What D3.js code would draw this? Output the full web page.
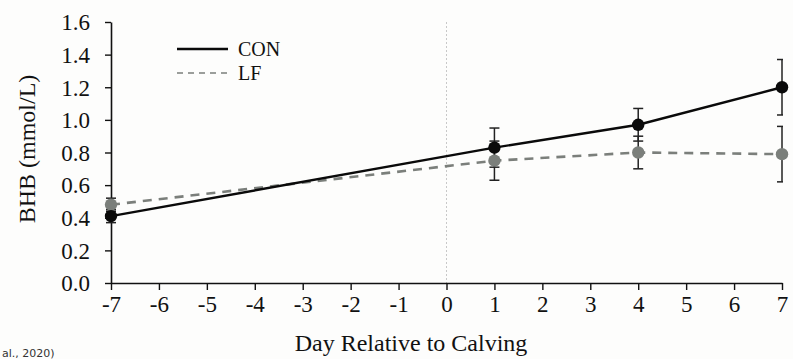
<!DOCTYPE html>
<html>
<head>
<meta charset="utf-8">
<script src="https://cdn.jsdelivr.net/npm/d3@7"></script>
<style>
  body { margin: 0; background: #fdfdfc; }
  svg { display: block; }
</style>
</head>
<body>
<div id="chart"></div>
<script>
// data
const days = [-7, 1, 4, 7];
const conMean = [0.41, 0.83, 0.97, 1.20];
const conSE = [0.04, 0.12, 0.10, 0.17];
const lfMean = [0.48, 0.75, 0.80, 0.79];
const lfSE = [0.04, 0.12, 0.10, 0.17];
const xTicks = d3.range(-7, 8);
const yTicks = [0, 0.2, 0.4, 0.6, 0.8, 1.0, 1.2, 1.4, 1.6];

const width = 793, height = 359;
const mLeft = 111, mRight = 782, mTop = 22, mBottom = 283;
const serif = '"Liberation Serif", "Times New Roman", serif';

const svg = d3.select('#chart').append('svg')
  .attr('width', width).attr('height', height)
  .style('font-family', serif);

const x = d3.scaleLinear().domain([-7, 7]).range([mLeft, mRight]);
const y = d3.scaleLinear().domain([0, 1.6]).range([mBottom, mTop]);

// clip so error caps at the right edge are cut like the original
svg.append('clipPath').attr('id', 'plot')
  .append('rect').attr('x', mLeft - 10).attr('y', 0)
  .attr('width', mRight - mLeft + 11).attr('height', height);

// dotted line at calving
svg.append('line')
  .attr('x1', x(0)).attr('x2', x(0))
  .attr('y1', mTop).attr('y2', mBottom)
  .attr('stroke', '#c8c8c8').attr('stroke-dasharray', '2,2');

// axes (plain hyphen for negatives, like the original)
const xAxis = d3.axisBottom(x).tickValues(xTicks).tickSize(7).tickSizeOuter(0)
  .tickFormat(d => String(d));
const yAxis = d3.axisLeft(y).tickValues(yTicks).tickSize(6).tickSizeOuter(0)
  .tickFormat(d3.format('.1f'));

const gx = svg.append('g').attr('transform', `translate(0,${mBottom})`).call(xAxis);
const gy = svg.append('g').attr('transform', `translate(${mLeft},0)`).call(yAxis);
[gx, gy].forEach(g => {
  g.select('.domain').attr('stroke', '#111').attr('stroke-width', 1.6);
  g.selectAll('.tick line').attr('stroke', '#111').attr('stroke-width', 1.4);
  g.selectAll('.tick text').attr('fill', '#111')
    .style('font-family', serif).style('font-size', '23px');
});
gx.selectAll('.tick text').attr('y', 13).attr('dy', '0.71em');
gy.selectAll('.tick text').attr('x', -21).attr('dy', '0.34em');

// axis titles
svg.append('text')
  .attr('x', 411).attr('y', 351)
  .attr('text-anchor', 'middle').attr('fill', '#111')
  .style('font-size', '24px').text('Day Relative to Calving');
svg.append('text')
  .attr('transform', `translate(35,149) rotate(-90)`)
  .attr('text-anchor', 'middle').attr('fill', '#111')
  .style('font-size', '24px').text('BHB (mmol/L)');

// series
const series = [
  { name: 'CON', mean: conMean, se: conSE, color: '#0a0a0a', dash: null },
  { name: 'LF', mean: lfMean, se: lfSE, color: '#7b7f7b', dash: '9,7' }
];

const line = d3.line().x(d => x(d[0])).y(d => y(d[1]));
const plot = svg.append('g').attr('clip-path', 'url(#plot)');

// error bars first (drawn under lines)
series.forEach(s => {
  const pts = days.map((d, i) => [d, s.mean[i], s.se[i]]);
  const g = plot.append('g');
  g.selectAll(null).data(pts).enter().append('line')
    .attr('x1', d => x(d[0])).attr('x2', d => x(d[0]))
    .attr('y1', d => y(d[1] - d[2])).attr('y2', d => y(d[1] + d[2]))
    .attr('stroke', '#222').attr('stroke-width', 1.5);
  [-1, 1].forEach(sign => {
    g.selectAll(null).data(pts).enter().append('line')
      .attr('x1', d => x(d[0]) - 5).attr('x2', d => x(d[0]) + 5)
      .attr('y1', d => y(d[1] + sign * d[2])).attr('y2', d => y(d[1] + sign * d[2]))
      .attr('stroke', '#222').attr('stroke-width', 1.5);
  });
});

// LF first, CON on top
[series[1], series[0]].forEach(s => {
  const pts = days.map((d, i) => [d, s.mean[i]]);
  svg.append('path').datum(pts)
    .attr('d', line).attr('fill', 'none')
    .attr('stroke', s.color).attr('stroke-width', s.dash ? 2.6 : 2.4)
    .attr('stroke-dasharray', s.dash);
  svg.selectAll(null).data(pts).enter().append('circle')
    .attr('cx', d => x(d[0])).attr('cy', d => y(d[1]))
    .attr('r', 6.2).attr('fill', s.color);
});

// legend
const legend = svg.append('g');
series.forEach((s, i) => {
  const ly = 49 + i * 24;
  legend.append('line')
    .attr('x1', 177).attr('x2', 228).attr('y1', ly).attr('y2', ly)
    .attr('stroke', s.color).attr('stroke-width', s.dash ? 1.6 : 2.6)
    .attr('stroke-dasharray', s.dash ? '6,5' : null);
  legend.append('text')
    .attr('x', 238).attr('y', ly).attr('dy', '0.35em')
    .attr('fill', '#111').style('font-size', '20px').text(s.name);
});

// citation fragment at the bottom edge
svg.append('text')
  .attr('x', 2).attr('y', 357)
  .attr('fill', '#333')
  .style('font-family', '"DejaVu Sans", sans-serif').style('font-size', '11px')
  .text('al., 2020)');
</script>
</body>
</html>
